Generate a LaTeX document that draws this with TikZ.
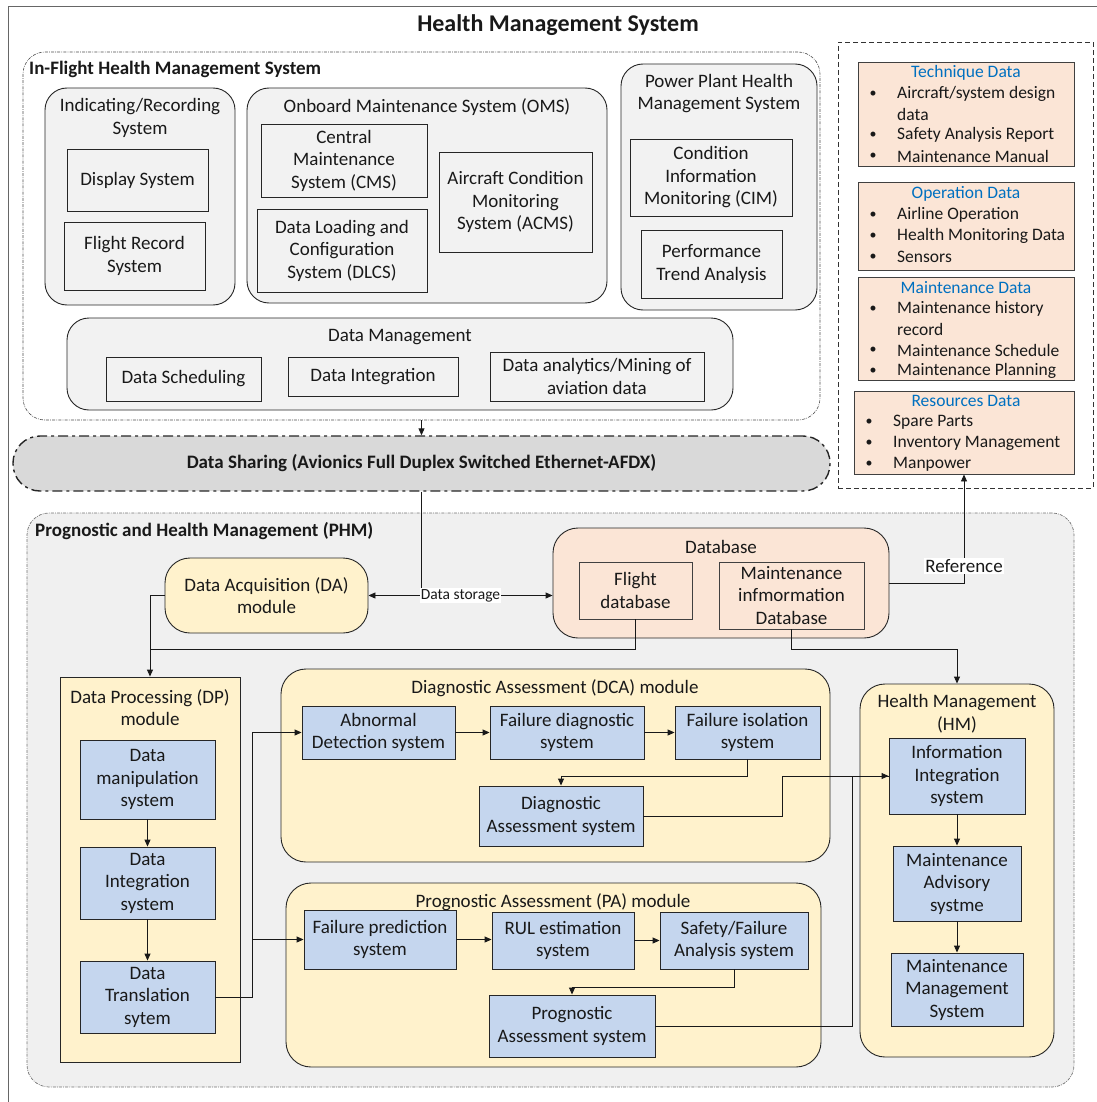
\documentclass[tikz,border=0pt]{standalone}
\usepackage{fontspec}
\setmainfont{Carlito}
\usetikzlibrary{arrows.meta,calc}
\definecolor{ylw}{HTML}{FFF2CC}
\definecolor{blu}{HTML}{C5D6EE}
\definecolor{pch}{HTML}{FBE5D6}
\definecolor{gry}{HTML}{F2F2F2}
\definecolor{phmc}{HTML}{F0F0F0}
\definecolor{shr}{HTML}{D9D9D9}
\definecolor{hd}{HTML}{0070C0}
\newcommand\bx[7]{\node[#2, minimum width={(#5)-(#3)}, minimum height={(#6)-(#4)}] (#1) at ({((#3)+(#5))/2},{((#4)+(#6))/2}) {#7};}
\newcommand\itm[5]{\node[bul] (#1b) at (#2,#4) {\textbullet}; \node[lst] (#1) at (#3,#4) {#5};}
\newcommand\itmnb[4]{\node[lst] (#1) at (#2,#3) {#4};}
\begin{document}
\begin{tikzpicture}[x=1pt,y=-1pt,
  every node/.style={font=\fontsize{19}{22.5}\selectfont, inner sep=0pt, align=center, text=black!90},
  lst/.style={anchor=west, font=\fontsize{17.5}{21}\selectfont},
  grybox/.style={draw=black!85, fill=gry, rounded corners=22pt, line width=0.9pt},
  grect/.style={draw=black!85, fill=gry, line width=0.9pt},
  ddbox/.style={draw=black!70, line width=0.6pt, dash pattern=on 3pt off 1.2pt on 0.8pt off 1.2pt, rounded corners=22pt},
  phmbox/.style={draw=black!55, fill=phmc, line width=0.7pt, dash pattern=on 3pt off 1.2pt on 0.8pt off 1.2pt, rounded corners=22pt},
  sharebox/.style={draw=black!85, fill=shr, line width=1.4pt, dash pattern=on 10pt off 4pt on 3pt off 4pt, rounded corners=27pt, font=\bfseries\fontsize{19}{22}\selectfont},
  srcbox/.style={draw=black!80, line width=0.8pt, dash pattern=on 5pt off 3pt},
  pchbox/.style={draw=black!75, fill=pch, line width=0.9pt},
  pchround/.style={draw=black!85, fill=pch, line width=0.9pt, rounded corners=25pt},
  ylwround/.style={draw=black!85, fill=ylw, line width=0.9pt, rounded corners=25pt},
  ylwrect/.style={draw=black!85, fill=ylw, line width=0.9pt},
  blubox/.style={draw=black!85, fill=blu, line width=0.9pt},
  hdtext/.style={text=hd, font=\fontsize{17.5}{21}\selectfont},
  bul/.style={font=\fontsize{14}{16}\selectfont},
  sect/.style={anchor=west, font=\bfseries\fontsize{19}{22}\selectfont},
  arr/.style={draw=black!90, line width=0.9pt, -{Triangle[length=7pt,width=6pt]}},
  dblarr/.style={draw=black!90, line width=0.9pt, {Triangle[length=7pt,width=6pt]}-{Triangle[length=7pt,width=6pt]}},
  ln/.style={draw=black!90, line width=0.9pt}
]
\useasboundingbox (0,0) rectangle (1096,1102);
\draw[draw=black!60, line width=1pt] (8,1110) -- (8,7) -- (1110,7);
\node[font=\bfseries\fontsize{24}{28}\selectfont] (title) at (558,25) {Health Management System};

% In-flight
\bx{inflight}{ddbox}{23}{52}{820}{420}{}
\node[sect] (inflightlbl) at (29,69) {In-Flight Health Management System};

\bx{ind}{grybox}{45}{88}{235}{305}{}
\node (indt) at (140,118) {Indicating/Recording\\System};
\bx{disp}{grect}{67}{149}{208}{211}{Display System}
\bx{frs}{grect}{64}{222}{205}{290}{Flight Record\\System}

\bx{oms}{grybox}{247}{88}{607}{303}{}
\node (omst) at (427,107) {Onboard Maintenance System (OMS)};
\bx{cms}{grect}{261}{124}{427}{197}{Central\\Maintenance\\System (CMS)}
\bx{dlcs}{grect}{257}{209}{427}{292}{Data Loading and\\Configuration\\System (DLCS)}
\bx{acms}{grect}{439}{152}{592}{252}{Aircraft Condition\\Monitoring\\System (ACMS)}

\bx{pp}{grybox}{621}{64}{817}{310}{}
\node (ppt) at (719,93.5) {Power Plant Health\\Management System};
\bx{cim}{grect}{630}{139}{792}{216}{Condition\\Information\\Monitoring (CIM)}
\bx{pta}{grect}{641}{230}{782}{298}{Performance\\Trend Analysis}

\bx{dm}{grybox}{67}{318}{733}{410}{}
\node (dmt) at (400,337) {Data Management};
\bx{dsch}{grect}{106}{357}{261}{401}{Data Scheduling}
\bx{dint}{grect}{288}{357}{458}{396}{Data Integration}
\bx{dana}{grect}{490}{352}{704}{401}{Data analytics/Mining of\\aviation data}

% Data sharing
\bx{ds}{sharebox}{13}{436}{830}{491}{Data Sharing (Avionics Full Duplex Switched Ethernet-AFDX)}
\draw[arr] (inflight.south) -- (ds.north);

% Sources
\bx{srcs}{srcbox}{838}{42}{1093}{488}{}
\bx{tech}{pchbox}{858}{62}{1074}{166}{}
\node[hdtext] (techt) at (966,73) {Technique Data};
\itm{t1}{873}{897}{94}{Aircraft/system design}
\itmnb{t1c}{897}{114}{data}
\itm{t2}{873}{897}{135}{Safety Analysis Report}
\itm{t3}{873}{897}{156}{Maintenance Manual}

\bx{oper}{pchbox}{858}{182}{1074}{270}{}
\node[hdtext] (opert) at (966,194) {Operation Data};
\itm{o1}{873}{897}{215}{Airline Operation}
\itm{o2}{873}{897}{236}{Health Monitoring Data}
\itm{o3}{873}{897}{257}{Sensors}

\bx{mnt}{pchbox}{858}{277}{1074}{380}{}
\node[hdtext] (mntt) at (966,288) {Maintenance Data};
\itm{m1}{873}{897}{309}{Maintenance history}
\itmnb{m1c}{897}{329}{record}
\itm{m2}{873}{897}{350}{Maintenance Schedule}
\itm{m3}{873}{897}{371}{Maintenance Planning}

\bx{res}{pchbox}{854}{391}{1074}{474}{}
\node[hdtext] (rest) at (966,401) {Resources Data};
\itm{r1}{869}{893}{422}{Spare Parts}
\itm{r2}{869}{893}{443}{Inventory Management}
\itm{r3}{869}{893}{464}{Manpower}

% PHM
\bx{phm}{phmbox}{27}{513}{1074}{1087}{}
\node[sect] (phmlbl) at (35,531) {Prognostic and Health Management (PHM)};

\bx{da}{ylwround}{165}{558}{368}{633}{Data Acquisition (DA)\\module}
\bx{db}{pchround}{553}{528}{889}{638}{}
\node (dbt) at (721,547) {Database};
\bx{fdb}{pchbox}{579}{562}{692}{619}{Flight\\database}
\bx{mdb}{pchbox}{719}{562}{864}{629}{Maintenance\\infmormation\\Database}

\bx{dp}{ylwrect}{60}{677}{240}{1062}{}
\node (dpt) at (150,707.5) {Data Processing (DP)\\module};
\bx{dman}{blubox}{80}{740}{215}{819}{Data\\manipulation\\system}
\bx{dinteg}{blubox}{80}{847}{215}{919}{Data\\Integration\\system}
\bx{dtrans}{blubox}{80}{961}{215}{1033}{Data\\Translation\\sytem}

\bx{dca}{ylwround}{281}{669}{830}{862}{}
\node (dcat) at (555,688) {Diagnostic Assessment (DCA) module};
\bx{abn}{blubox}{302}{706}{455}{759}{Abnormal\\Detection system}
\bx{fdiag}{blubox}{490}{706}{644}{759}{Failure diagnostic\\system}
\bx{fiso}{blubox}{675}{706}{820}{759}{Failure isolation\\system}
\bx{dasm}{blubox}{479}{786}{643}{846}{Diagnostic\\Assessment system}

\bx{pa}{ylwround}{286}{883}{821}{1067}{}
\node (pat) at (553,902) {Prognostic Assessment (PA) module};
\bx{fpred}{blubox}{304}{910}{456}{969}{Failure prediction\\system}
\bx{rul}{blubox}{492}{912}{634}{969}{RUL estimation\\system}
\bx{sfa}{blubox}{660}{912}{808}{969}{Safety/Failure\\Analysis system}
\bx{pasm}{blubox}{489}{995}{655}{1057}{Prognostic\\Assessment system}

\bx{hm}{ylwround}{860}{684}{1054}{1057}{}
\node (hmt) at (957,713.5) {Health Management\\(HM)};
\bx{info}{blubox}{889}{738}{1025}{814}{Information\\Integration\\system}
\bx{madv}{blubox}{893}{846}{1021}{921}{Maintenance\\Advisory\\systme}
\bx{mman}{blubox}{891}{953}{1023}{1026}{Maintenance\\Management\\System}

% connectors
\draw[ln] (ds.south) -- (ds.south |- da.east);
\draw[dblarr] (da.east) -- (da.east -| db.west) node[midway, fill=white, font=\fontsize{15.5}{18}\selectfont, inner sep=1pt] (dslbl) {Data storage};
\draw[arr] (db.east) -| (res.south);
\node[fill=white, inner sep=1.5pt] (reflbl) at (964,566) {Reference};
\draw[arr] (da.west) -| (dp.north);
\coordinate (jfdb) at (150,649);
\draw[ln] (fdb.south) |- (jfdb);
\draw[arr] (mdb.south) -- ++(0,20) -| (hm.north);

\draw[arr] (dman.south) -- (dinteg.north);
\draw[arr] (dinteg.south) -- (dtrans.north);
\draw[arr] (dtrans.east) -- ++(37,0) |- (abn.west);
\draw[arr] (dtrans.east) -- ++(37,0) |- (fpred.west);

\draw[arr] (abn.east) -- (abn.east -| fdiag.west);
\draw[arr] (fdiag.east) -- (fdiag.east -| fiso.west);
\draw[arr] (fiso.south) -- ++(0,17) -| (dasm.north);
\draw[arr] (dasm.east) -- ++(139,0) |- (info.west);

\draw[arr] (fpred.east) -- (fpred.east -| rul.west);
\draw[arr] (rul.east) -- (rul.east -| sfa.west);
\draw[arr] (sfa.south) -- ++(0,18) -| (pasm.north);
\draw[ln] (pasm.east) -- ++(197,0) |- (info.west);

\draw[arr] (info.south) -- (madv.north);
\draw[arr] (madv.south) -- (mman.north);
\end{tikzpicture}
\end{document}
